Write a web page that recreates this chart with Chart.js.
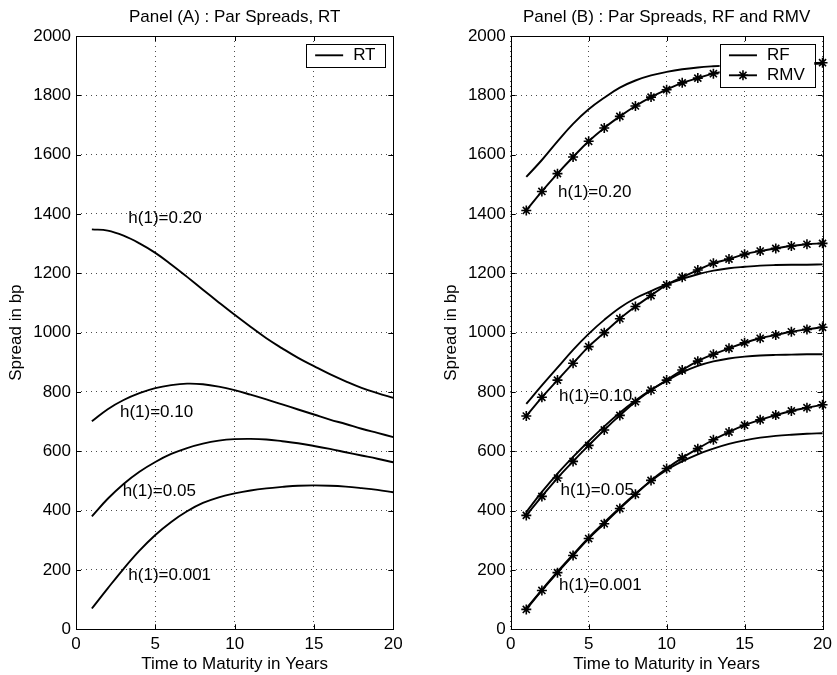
<!DOCTYPE html>
<html>
<head>
<meta charset="utf-8">
<title>Par Spreads</title>
<script src="https://cdn.jsdelivr.net/npm/chart.js@4.4.1/dist/chart.umd.min.js"></script>
<style>
  html, body { margin: 0; padding: 0; background: #fff; }
  #wrap { position: relative; width: 837px; height: 675px; overflow: hidden; }
  #wrap canvas { position: absolute; top: 0; }
  #panel-a { left: 0; }
  #panel-b { left: 418px; }
</style>
</head>
<body>
<div id="wrap">
  <canvas id="panel-a" width="418" height="675"></canvas>
  <canvas id="panel-b" width="419" height="675"></canvas>
</div>
<script>
// maturities in years
const years = [1, 2, 3, 4, 5, 6, 7, 8, 9, 10, 11, 12, 13, 14, 15, 16, 17, 18, 19, 20];
const xTicks = [0, 5, 10, 15, 20];
const yTicks = [0, 200, 400, 600, 800, 1000, 1200, 1400, 1600, 1800, 2000];
const hazardLabels = ['h(1)=0.20', 'h(1)=0.10', 'h(1)=0.05', 'h(1)=0.001'];

// Panel A: recovery of treasury (RT), spreads in bp
const rtH20 = [1348, 1344, 1327, 1301, 1269, 1230, 1188, 1145, 1102, 1060, 1020, 981, 947, 915, 887, 860, 836, 814, 796, 780];
const rtH10 = [701, 742, 773, 796, 813, 823, 828, 826, 818, 806, 791, 775, 758, 741, 724, 707, 692, 676, 662, 648];
const rtH05 = [381, 440, 490, 531, 564, 591, 611, 626, 636, 641, 642, 640, 634, 627, 618, 608, 597, 586, 575, 563];
const rtH001 = [70, 138, 204, 265, 318, 362, 398, 426, 445, 458, 468, 475, 480, 484, 485, 484, 481, 476, 470, 462];

// Panel B: recovery of face value (RF) and of market value (RMV)
const rfH20 = [1525, 1582, 1645, 1704, 1753, 1792, 1826, 1850, 1867, 1879, 1888, 1894, 1898, 1901, 1903, 1904, 1905, 1906, 1906, 1907];
const rmvH20 = [1412, 1476, 1536, 1592, 1645, 1690, 1729, 1764, 1794, 1819, 1842, 1858, 1873, 1883, 1891, 1897, 1902, 1905, 1908, 1910];
const rfH10 = [760, 822, 882, 942, 996, 1043, 1084, 1116, 1140, 1163, 1181, 1197, 1209, 1217, 1222, 1226, 1228, 1229, 1229, 1230];
const rmvH10 = [719, 782, 840, 897, 953, 1000, 1047, 1088, 1125, 1161, 1187, 1211, 1234, 1248, 1264, 1275, 1284, 1292, 1298, 1301];
const rfH05 = [395, 463, 525, 581, 634, 684, 730, 771, 807, 838, 866, 888, 903, 913, 919, 923, 925, 926, 927, 927];
const rmvH05 = [384, 448, 510, 566, 620, 672, 721, 767, 806, 840, 874, 904, 927, 947, 966, 981, 992, 1003, 1011, 1018];
const rfH001 = [70, 133, 194, 252, 309, 360, 410, 457, 500, 537, 566, 590, 609, 625, 637, 646, 652, 656, 659, 661];
const rmvH001 = [67, 131, 191, 249, 306, 356, 407, 455, 502, 542, 578, 609, 639, 665, 688, 706, 722, 736, 747, 757];

// where the h(1) captions sit, in data units
const labelPosA = [[3.3, 1386], [2.77, 733], [2.94, 464], [3.3, 183]];
const labelPosB = [[3.04, 1473], [3.1, 787], [3.2, 470], [3.1, 149]];

const FONT = '"Liberation Sans", Arial, Helvetica, sans-serif';
const FS = 17;
Chart.defaults.font.family = FONT;
Chart.defaults.font.size = FS;
Chart.defaults.color = '#000';

const LINE_W = 1.9;

function points(values) {
  return years.map((t, i) => ({ x: t, y: values[i] }));
}

function plainSeries(label, values) {
  return {
    label,
    data: points(values),
    borderColor: '#000',
    borderWidth: LINE_W,
    pointRadius: 0,
    tension: 0.4,
    clip: false,
  };
}

function starSeries(label, values) {
  return {
    label,
    data: points(values),
    borderColor: '#000',
    backgroundColor: '#000',
    borderWidth: LINE_W,
    pointStyle: 'star',
    pointRadius: 5,
    pointBorderWidth: 1.6,
    pointBorderColor: '#000',
    tension: 0.4,
    clip: false,
  };
}

function drawStar(ctx, x, y, r) {
  ctx.beginPath();
  for (let k = 0; k < 4; k++) {
    const a = k * Math.PI / 4;
    ctx.moveTo(x - r * Math.cos(a), y - r * Math.sin(a));
    ctx.lineTo(x + r * Math.cos(a), y + r * Math.sin(a));
  }
  ctx.stroke();
}

// title over the plot, solid box and inward tick marks like a matlab axes
function framePlugin(title) {
  return {
    id: 'frame',
    afterDatasetsDraw(chart) {
      const { ctx, chartArea: a, scales } = chart;
      ctx.save();
      ctx.strokeStyle = '#000';
      ctx.lineWidth = 1;
      ctx.strokeRect(Math.round(a.left) + 0.5, Math.round(a.top) + 0.5,
        Math.round(a.right - a.left), Math.round(a.bottom - a.top));
      const len = 5;
      ctx.beginPath();
      xTicks.forEach((v) => {
        const px = Math.round(scales.x.getPixelForValue(v)) + 0.5;
        ctx.moveTo(px, a.bottom); ctx.lineTo(px, a.bottom - len);
        ctx.moveTo(px, a.top); ctx.lineTo(px, a.top + len);
      });
      yTicks.forEach((v) => {
        const py = Math.round(scales.y.getPixelForValue(v)) + 0.5;
        ctx.moveTo(a.left, py); ctx.lineTo(a.left + len, py);
        ctx.moveTo(a.right, py); ctx.lineTo(a.right - len, py);
      });
      ctx.stroke();
      ctx.fillStyle = '#000';
      ctx.font = FS + 'px ' + FONT;
      ctx.textAlign = 'center';
      ctx.textBaseline = 'middle';
      ctx.fillText(title, (a.left + a.right) / 2, 17);
      ctx.restore();
    },
  };
}

function curveLabelPlugin(positions) {
  return {
    id: 'curveLabels',
    afterDatasetsDraw(chart) {
      const { ctx, scales } = chart;
      ctx.save();
      ctx.fillStyle = '#000';
      ctx.font = FS + 'px ' + FONT;
      ctx.textAlign = 'left';
      ctx.textBaseline = 'middle';
      positions.forEach(([x, y], i) => {
        ctx.fillText(hazardLabels[i], scales.x.getPixelForValue(x), scales.y.getPixelForValue(y));
      });
      ctx.restore();
    },
  };
}

// boxed legend in the upper right corner of the plot
function boxLegendPlugin(entries) {
  return {
    id: 'boxLegend',
    afterDraw(chart) {
      const { ctx, chartArea: a } = chart;
      ctx.save();
      ctx.font = FS + 'px ' + FONT;
      const textW = Math.max(...entries.map((e) => ctx.measureText(e.label).width));
      const w = 47.3 + textW + 9.5;
      const h = entries.length * 20 + 3;
      const right = a.right - 8.3;
      const top = a.top + 8.3;
      const left = right - w;
      ctx.fillStyle = '#fff';
      ctx.fillRect(left, top, w, h);
      ctx.strokeStyle = '#000';
      ctx.lineWidth = 1;
      ctx.strokeRect(Math.round(left) + 0.5, Math.round(top) + 0.5, Math.round(w), Math.round(h));
      entries.forEach((e, i) => {
        const cy = top + 11 + i * 20;
        const x0 = left + 9.3;
        ctx.lineWidth = LINE_W;
        ctx.beginPath();
        ctx.moveTo(x0, cy);
        ctx.lineTo(x0 + 28, cy);
        ctx.stroke();
        if (e.star) {
          ctx.lineWidth = 1.6;
          drawStar(ctx, x0 + 14, cy, 5);
        }
        ctx.fillStyle = '#000';
        ctx.textAlign = 'left';
        ctx.textBaseline = 'middle';
        ctx.fillText(e.label, x0 + 38, cy + 0.5);
      });
      ctx.restore();
    },
  };
}

function scalesConfig(yAxisWidth, yTitlePad) {
  return {
    x: {
      type: 'linear',
      min: 0,
      max: 20,
      afterBuildTicks(scale) { scale.ticks = xTicks.map((v) => ({ value: v })); },
      ticks: { padding: 5, color: '#000', font: { size: FS }, callback: (v) => String(v) },
      grid: { color: 'rgba(0,0,0,0.7)', lineWidth: 1, drawTicks: false },
      border: { display: false, dash: [1, 4] },
      title: { display: true, text: 'Time to Maturity in Years', color: '#000', font: { size: FS }, padding: { top: 0, bottom: 0 } },
      afterFit(scale) { scale.height = 45.7; },
    },
    y: {
      type: 'linear',
      min: 0,
      max: 2000,
      afterBuildTicks(scale) { scale.ticks = yTicks.map((v) => ({ value: v })); },
      ticks: { padding: 5, color: '#000', font: { size: FS }, callback: (v) => String(v) },
      grid: { color: 'rgba(0,0,0,0.7)', lineWidth: 1, drawTicks: false },
      border: { display: false, dash: [1, 4] },
      title: { display: true, text: 'Spread in bp', color: '#000', font: { size: FS }, padding: { top: yTitlePad, bottom: 0 } },
      afterFit(scale) { scale.width = yAxisWidth; },
    },
  };
}

function baseOptions(yAxisWidth, yTitlePad, padRight) {
  return {
    responsive: false,
    animation: false,
    events: [],
    layout: { padding: { top: 36, right: padRight, bottom: 0, left: 0 } },
    plugins: { legend: { display: false }, tooltip: { enabled: false }, title: { display: false } },
    scales: scalesConfig(yAxisWidth, yTitlePad),
  };
}

new Chart(document.getElementById('panel-a'), {
  type: 'line',
  data: {
    datasets: [
      plainSeries('RT', rtH20),
      plainSeries('RT', rtH10),
      plainSeries('RT', rtH05),
      plainSeries('RT', rtH001),
    ],
  },
  options: baseOptions(76, 5.8, 24.7),
  plugins: [
    framePlugin('Panel (A) : Par Spreads, RT'),
    curveLabelPlugin(labelPosA),
    boxLegendPlugin([{ label: 'RT', star: false }]),
  ],
});

new Chart(document.getElementById('panel-b'), {
  type: 'line',
  data: {
    datasets: [
      plainSeries('RF', rfH20),
      starSeries('RMV', rmvH20),
      plainSeries('RF', rfH10),
      starSeries('RMV', rmvH10),
      plainSeries('RF', rfH05),
      starSeries('RMV', rmvH05),
      plainSeries('RF', rfH001),
      starSeries('RMV', rmvH001),
    ],
  },
  options: baseOptions(92.7, 23.5, 8.7),
  plugins: [
    framePlugin('Panel (B) : Par Spreads, RF and RMV'),
    curveLabelPlugin(labelPosB),
    boxLegendPlugin([{ label: 'RF', star: false }, { label: 'RMV', star: true }]),
  ],
});
</script>
</body>
</html>
